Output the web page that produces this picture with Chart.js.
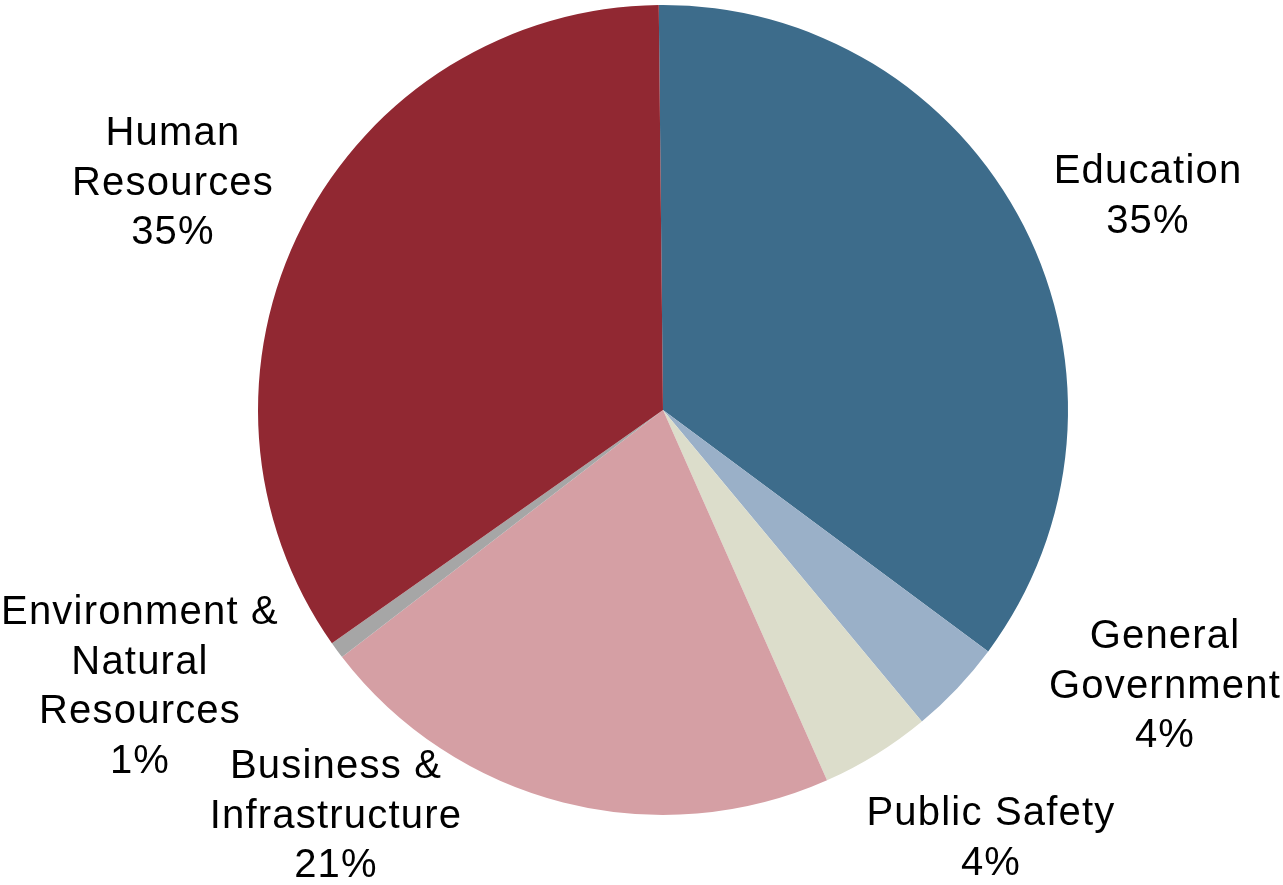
<!DOCTYPE html>
<html>
<head>
<meta charset="utf-8">
<script src="https://cdn.jsdelivr.net/npm/chart.js@4"></script>
<style>
  html, body { margin: 0; padding: 0; background: #ffffff; }
  #wrap { width: 1283px; height: 885px; position: relative; }
</style>
</head>
<body>
<div id="wrap"><canvas id="c"></canvas></div>
<script>
// Data
const categories = ["Education", "General Government", "Public Safety", "Business & Infrastructure", "Environment & Natural Resources", "Human Resources"];
const shares = [35.33, 3.8, 4.4, 21.2, 0.67, 34.6];
const shareLabels = ["35%", "4%", "4%", "21%", "1%", "35%"];
const labelLines = [
  ["Education"],
  ["General", "Government"],
  ["Public Safety"],
  ["Business &", "Infrastructure"],
  ["Environment &", "Natural", "Resources"],
  ["Human", "Resources"]
];
const sliceColors = ["#3D6C8B", "#9AB0C8", "#DCDDCB", "#D59FA4", "#A6A6A6", "#912832"];

// Label anchor: center x, first-line baseline y
const labelAnchors = [
  [1148, 183],
  [1165, 648],
  [991, 825],
  [336, 778],
  [140, 624],
  [173, 145]
];
const lineGap = 49.5;

const labelPlugin = {
  id: 'outsideLabels',
  afterDraw(chart) {
    const ctx = chart.ctx;
    ctx.save();
    ctx.fillStyle = '#000000';
    ctx.font = '40px "Liberation Sans", Arial, Helvetica, sans-serif';
    if ('letterSpacing' in ctx) ctx.letterSpacing = '1.2px';
    ctx.textAlign = 'center';
    ctx.textBaseline = 'alphabetic';
    categories.forEach((cat, i) => {
      const lines = labelLines[i].concat([shareLabels[i]]);
      const [x, y] = labelAnchors[i];
      lines.forEach((t, k) => ctx.fillText(t, x, y + k * lineGap));
    });
    ctx.restore();
  }
};

new Chart(document.getElementById('c'), {
  type: 'pie',
  data: {
    labels: categories,
    datasets: [{
      data: shares,
      backgroundColor: sliceColors,
      borderWidth: 0,
      hoverOffset: 0
    }]
  },
  options: {
    responsive: true,
    maintainAspectRatio: false,
    animation: false,
    rotation: -0.6,
    layout: { padding: { left: 258, right: 215, top: 5, bottom: 70 } },
    plugins: {
      legend: { display: false },
      tooltip: { enabled: false }
    }
  },
  plugins: [labelPlugin]
});
</script>
</body>
</html>
